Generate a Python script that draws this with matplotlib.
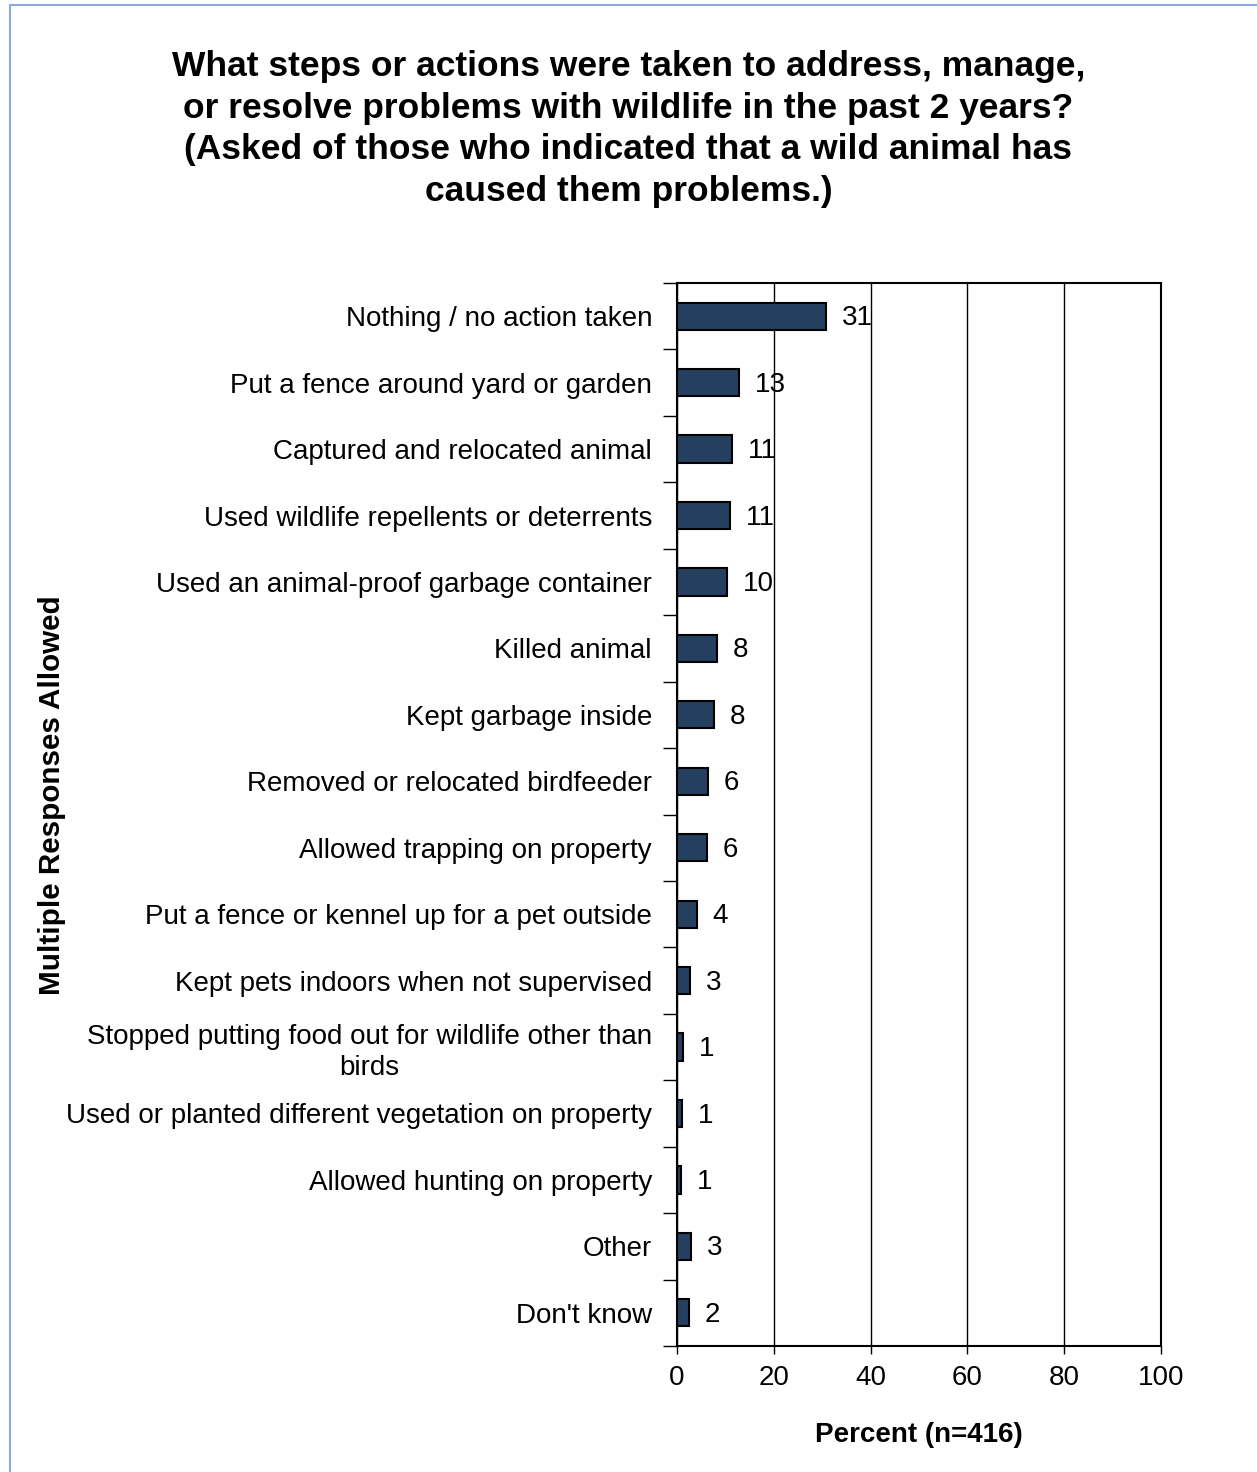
import numpy as np
import matplotlib.pyplot as plt
from matplotlib.patches import Rectangle

categorias = [
    "Nothing / no action taken",
    "Put a fence around yard or garden",
    "Captured and relocated animal",
    "Used wildlife repellents or deterrents",
    "Used an animal-proof garbage container",
    "Killed animal",
    "Kept garbage inside",
    "Removed or relocated birdfeeder",
    "Allowed trapping on property",
    "Put a fence or kennel up for a pet outside",
    "Kept pets indoors when not supervised",
    "Stopped putting food out for wildlife other than\nbirds",
    "Used or planted different vegetation on property",
    "Allowed hunting on property",
    "Other",
    "Don't know",
]
valores = [30.8, 12.8, 11.4, 11.0, 10.3, 8.3, 7.6, 6.4, 6.2, 4.1, 2.7, 1.2, 1.0, 0.8, 2.8, 2.5]
rotulos = ["31", "13", "11", "11", "10", "8", "8", "6", "6", "4", "3", "1", "1", "1", "3", "2"]

plt.rcParams['font.family'] = ['Liberation Sans', 'DejaVu Sans']

fig = plt.figure(figsize=(12.57, 14.72), dpi=100)

# moldura azul clara em volta do grafico
fig.patches.append(Rectangle((10 / 1257, -0.01), 1.1, 1.01 - 5 / 1472, transform=fig.transFigure,
                             fill=False, edgecolor='#8EAADB', linewidth=1.5))

ax = fig.add_axes([677 / 1257, 126 / 1472, 484 / 1257, 1063 / 1472])

n = len(categorias)
y = np.arange(n)
ax.barh(y, valores, height=0.41, color='#243F60', edgecolor='black', linewidth=1.5, zorder=3)

for yi, v, r in zip(y, valores, rotulos):
    ax.annotate(r, (v, yi), xytext=(11.5, -1.5), textcoords='offset points',
                va='center', ha='left', fontsize=20, zorder=4)

ax.set_ylim(n - 0.5, -0.5)
ax.set_xlim(0, 100)
ax.set_xticks([0, 20, 40, 60, 80, 100])
ax.tick_params(axis='x', labelsize=20, length=6, width=1, direction='out', pad=8)

ax.set_yticks(y)
ax.set_yticklabels(categorias, fontsize=20)
for lab in ax.get_yticklabels():
    lab.set_multialignment('center')
    lab.set_linespacing(1.25)
ax.tick_params(axis='y', which='major', length=0, pad=18)
ax.set_yticks(np.arange(-0.5, n, 1), minor=True)
ax.tick_params(axis='y', which='minor', length=10, width=1, direction='out')

ax.grid(axis='x', color='black', linewidth=1, zorder=0)
for s in ax.spines.values():
    s.set_linewidth(1.5)
    s.set_color('black')

ax.set_xlabel('Percent (n=416)', fontsize=20, fontweight='bold', labelpad=22)
fig.text(52 / 1257, 1 - 795 / 1472, 'Multiple Responses Allowed', rotation=90,
         fontsize=21.3, fontweight='bold', ha='center', va='center')

fig.text(0.5, 1 - 129 / 1472,
         'What steps or actions were taken to address, manage,\n'
         'or resolve problems with wildlife in the past 2 years?\n'
         '(Asked of those who indicated that a wild animal has\n'
         'caused them problems.)',
         fontsize=25.5, fontweight='bold', ha='center', va='center', linespacing=1.34)

fig.savefig('out.png', dpi=100)
